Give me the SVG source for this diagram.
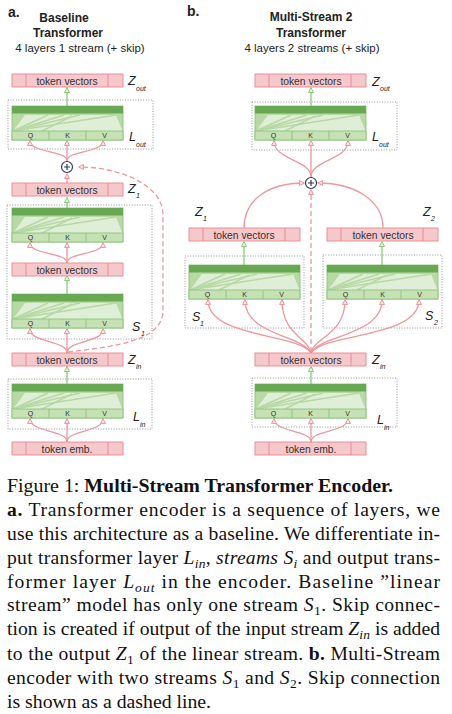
<svg xmlns="http://www.w3.org/2000/svg" xmlns:xlink="http://www.w3.org/1999/xlink" width="452" height="714" viewBox="0 0 452 714">
<style>
.tok{fill:#f5c8cb;stroke:#e9878e;stroke-width:0.9}
.tokd{stroke:#e9878e;stroke-width:0.9}
.tt{font-family:"Liberation Sans",Arial,sans-serif;font-size:10.3px;fill:#333;text-anchor:middle}
.dot{fill:none;stroke:#8a8a8a;stroke-width:0.9;stroke-dasharray:1 1.6}
.pk{fill:none;stroke:#ee979d;stroke-width:1.3;marker-end:url(#pa)}
.pkd{fill:none;stroke:#ee979d;stroke-width:1.3;stroke-dasharray:5 3;marker-end:url(#pa)}
.gr{fill:none;stroke:#8cc97a;stroke-width:1.3;marker-end:url(#ga)}
.lab{font-family:"Liberation Sans",Arial,sans-serif;font-style:italic;font-size:12.5px;fill:#222}
.sub{font-family:"Liberation Sans",Arial,sans-serif;font-style:italic;font-size:7px;fill:#222}
.ttl{font-family:"Liberation Sans",Arial,sans-serif;font-size:11.5px;fill:#222;text-anchor:middle}
.ttb{font-family:"Liberation Sans",Arial,sans-serif;font-size:12px;font-weight:bold;fill:#222;text-anchor:middle}
.qkv{font-family:"Liberation Sans",Arial,sans-serif;font-size:7px;fill:#333;text-anchor:middle}
.cap{font-family:"Liberation Serif","Times New Roman",serif;font-size:19.6px;fill:#111}
.it{font-style:italic}
.cs{font-size:13.5px}
</style>
<defs>
<marker id="pa" markerUnits="userSpaceOnUse" markerWidth="7" markerHeight="7" refX="5" refY="3" orient="auto">
<path d="M0.5,0.5 L5.5,3 L0.5,5.5 z" fill="#fbe3e4" stroke="#ee979d" stroke-width="1"/>
</marker>
<marker id="ga" markerUnits="userSpaceOnUse" markerWidth="7" markerHeight="7" refX="5" refY="3" orient="auto">
<path d="M0.5,0.5 L5.5,3 L0.5,5.5 z" fill="#e6f3df" stroke="#8cc97a" stroke-width="1"/>
</marker>
<g id="layer">
<rect x="0" y="0" width="111" height="34" fill="#b8d8a5" stroke="#8dc47c" stroke-width="0.9"/>
<rect x="0" y="0" width="111" height="7.5" fill="#68a853"/>
<polygon points="1,25 13,9 104,9 110.5,25" fill="#dfeed6"/>
<g stroke="#b8d8a5" stroke-width="1.4" fill="none">
<path d="M1,25 L36,9"/>
<path d="M1,25 L52,9"/>
<path d="M1,25 L68,9"/>
<path d="M1,25 L104,9"/>
<path d="M30,25 L60,10"/>
</g>
<rect x="0" y="25" width="111" height="9" fill="#c6e1b4" stroke="#8dc47c" stroke-width="0.9"/>
<line x1="37" y1="25" x2="37" y2="34" stroke="#8dc47c" stroke-width="0.9"/>
<line x1="74" y1="25" x2="74" y2="34" stroke="#8dc47c" stroke-width="0.9"/>
<text x="18.5" y="32" class="qkv">Q</text>
<text x="55.5" y="32" class="qkv">K</text>
<text x="92.5" y="32" class="qkv">V</text>
</g>
<g id="tokbox">
<rect x="0" y="0" width="111" height="13" class="tok"/>
<line x1="14" y1="0" x2="14" y2="13" class="tokd"/>
<line x1="96" y1="0" x2="96" y2="13" class="tokd"/>
</g>
<g id="plus">
<circle cx="0" cy="0" r="5.5" fill="#fff" stroke="#2e3d55" stroke-width="1.2"/>
<path d="M-3,0 H3 M0,-3 V3" stroke="#2e3d55" stroke-width="1.2"/>
</g>
</defs>
<rect width="452" height="714" fill="#fff"/>

<!-- titles -->
<g id="titles">
<text x="8" y="17" font-family="Liberation Sans,Arial,sans-serif" font-weight="bold" font-size="14" fill="#222">a.</text>
<text x="64" y="22" class="ttb">Baseline</text>
<text x="68" y="37" class="ttb">Transformer</text>
<text x="80" y="52" class="ttl">4 layers 1 stream (+ skip)</text>
<text x="187" y="16" font-family="Liberation Sans,Arial,sans-serif" font-weight="bold" font-size="14" fill="#222">b.</text>
<text x="311" y="21" class="ttb">Multi-Stream 2</text>
<text x="311" y="37" class="ttb">Transformer</text>
<text x="312" y="52" class="ttl">4 layers 2 streams (+ skip)</text>
</g>

<!-- dotted groups -->
<g id="groups">
<rect x="8" y="100" width="145" height="49" class="dot"/>
<rect x="7" y="205" width="145" height="134" class="dot"/>
<rect x="8" y="379" width="144" height="50" class="dot"/>
<rect x="252" y="102" width="145" height="48" class="dot"/>
<rect x="185" y="256" width="119" height="72" class="dot"/>
<rect x="323" y="255" width="119" height="73" class="dot"/>
<rect x="252" y="378" width="145" height="49" class="dot"/>
</g>

<!-- connectors -->
<g id="connectors">
<!-- panel a -->
<path class="gr" d="M67,106 V88"/>
<path class="pk" d="M67,161 C67,150 30,153 30,141"/>
<path class="pk" d="M67,161 V141"/>
<path class="pk" d="M67,161 C67,150 103,153 103,141"/>
<path class="pk" d="M67,183 V174"/>
<path class="gr" d="M67,208 V198"/>
<path class="pk" d="M67,263 C67,252 30,255 30,243"/>
<path class="pk" d="M67,263 V243"/>
<path class="pk" d="M67,263 C67,252 103,255 103,243"/>
<path class="gr" d="M67,294 V276"/>
<path class="pk" d="M67,353 C67,340 30,343 30,329"/>
<path class="pk" d="M67,353 V329"/>
<path class="pk" d="M67,353 C67,340 103,343 103,329"/>
<path class="pkd" d="M68,352 C120,346 163,340 163,310 L163,215 C163,185 120,167 79,167"/>
<path class="gr" d="M67,384 V367"/>
<path class="pk" d="M67,442 C67,430 30,432 30,419"/>
<path class="pk" d="M67,442 V419"/>
<path class="pk" d="M67,442 C67,430 103,432 103,419"/>
<!-- panel b -->
<path class="gr" d="M311,106 V88"/>
<path class="pk" d="M311,177 C311,160 274,160 274,141"/>
<path class="pk" d="M311,177 V141"/>
<path class="pk" d="M311,177 C311,160 348,160 348,141"/>
<path class="pk" d="M244,228 C244,200 268,183 304,183"/>
<path class="pk" d="M383,228 C383,200 354,183 318,183"/>
<path class="gr" d="M244,265 V242"/>
<path class="gr" d="M382,265 V242"/>
<path class="pk" d="M311,353 C298,333 208,338 208,300"/>
<path class="pk" d="M311,353 C302,335 245,335 245,300"/>
<path class="pk" d="M311,353 C308,337 282,335 282,300"/>
<path class="pk" d="M311,353 C314,337 345,335 345,300"/>
<path class="pk" d="M311,353 C320,335 382,335 382,300"/>
<path class="pk" d="M311,353 C324,333 419,338 419,300"/>
<path class="pkd" d="M311,352 V190"/>
<path class="gr" d="M311,384 V367"/>
<path class="pk" d="M311,442 C311,430 274,432 274,419"/>
<path class="pk" d="M311,442 V419"/>
<path class="pk" d="M311,442 C311,430 348,432 348,419"/>
</g>

<!-- panel a nodes -->
<g id="a-zout"><use xlink:href="#tokbox" x="12" y="74"/><text x="67" y="84.5" class="tt">token vectors</text></g>
<g id="a-lout"><use xlink:href="#layer" x="12" y="106"/></g>
<g id="a-plus"><use xlink:href="#plus" x="67" y="167"/></g>
<g id="a-z1"><use xlink:href="#tokbox" x="12" y="183"/><text x="67" y="193.5" class="tt">token vectors</text></g>
<g id="a-s1-l1"><use xlink:href="#layer" x="12" y="208"/></g>
<g id="a-s1-tok"><use xlink:href="#tokbox" x="12" y="263"/><text x="67" y="273.5" class="tt">token vectors</text></g>
<g id="a-s1-l2"><use xlink:href="#layer" x="12" y="294"/></g>
<g id="a-zin"><use xlink:href="#tokbox" x="12" y="353"/><text x="67" y="363.5" class="tt">token vectors</text></g>
<g id="a-lin"><use xlink:href="#layer" x="12" y="384"/></g>
<g id="a-emb"><use xlink:href="#tokbox" x="12" y="442"/><text x="67" y="452.5" class="tt">token emb.</text></g>

<!-- panel b nodes -->
<g id="b-zout"><use xlink:href="#tokbox" x="255" y="74"/><text x="311" y="84.5" class="tt">token vectors</text></g>
<g id="b-lout"><use xlink:href="#layer" x="255" y="106"/></g>
<g id="b-plus"><use xlink:href="#plus" x="311" y="183"/></g>
<g id="b-z1"><use xlink:href="#tokbox" x="189" y="228"/><text x="244" y="238.5" class="tt">token vectors</text></g>
<g id="b-z2"><use xlink:href="#tokbox" x="327" y="228"/><text x="383" y="238.5" class="tt">token vectors</text></g>
<g id="b-s1"><use xlink:href="#layer" x="189" y="265"/></g>
<g id="b-s2"><use xlink:href="#layer" x="327" y="265"/></g>
<g id="b-zin"><use xlink:href="#tokbox" x="255" y="353"/><text x="311" y="363.5" class="tt">token vectors</text></g>
<g id="b-lin"><use xlink:href="#layer" x="255" y="384"/></g>
<g id="b-emb"><use xlink:href="#tokbox" x="255" y="442"/><text x="311" y="452.5" class="tt">token emb.</text></g>

<!-- labels -->
<g id="labels">
<text x="128" y="85" class="lab">Z</text><text x="136" y="91" class="sub">out</text>
<text x="129" y="141" class="lab">L</text><text x="136" y="147" class="sub">out</text>
<text x="128" y="193" class="lab">Z</text><text x="136" y="198" class="sub">1</text>
<text x="132" y="331" class="lab">S</text><text x="141" y="336" class="sub">1</text>
<text x="128" y="364" class="lab">Z</text><text x="136" y="369" class="sub">in</text>
<text x="133" y="421" class="lab">L</text><text x="140" y="427" class="sub">in</text>
<text x="372" y="86" class="lab">Z</text><text x="380" y="91" class="sub">out</text>
<text x="372" y="141" class="lab">L</text><text x="379" y="147" class="sub">out</text>
<text x="195" y="216" class="lab">Z</text><text x="203" y="221" class="sub">1</text>
<text x="423" y="216" class="lab">Z</text><text x="431" y="221" class="sub">2</text>
<text x="192" y="321" class="lab">S</text><text x="200" y="326" class="sub">1</text>
<text x="425" y="320" class="lab">S</text><text x="434" y="325" class="sub">2</text>
<text x="372" y="364" class="lab">Z</text><text x="380" y="369" class="sub">in</text>
<text x="377" y="424" class="lab">L</text><text x="384" y="430" class="sub">in</text>
</g>

<!-- caption -->
<g id="caption" class="cap">
<text x="7" y="492" textLength="386" lengthAdjust="spacingAndGlyphs">Figure 1: <tspan font-weight="bold">Multi-Stream Transformer Encoder.</tspan></text>
<text x="7" y="516" textLength="433" lengthAdjust="spacing"><tspan font-weight="bold">a.</tspan>  Transformer encoder is a sequence of layers, we</text>
<text x="7" y="540" textLength="433" lengthAdjust="spacing">use this architecture as a baseline. We differentiate in-</text>
<text x="7" y="564" textLength="433" lengthAdjust="spacing">put transformer layer <tspan class="it">L</tspan><tspan class="it cs" dy="4">in</tspan><tspan dy="-4">, </tspan><tspan class="it">streams S</tspan><tspan class="it cs" dy="4">i</tspan><tspan dy="-4"> and output trans-</tspan></text>
<text x="7" y="588" textLength="433" lengthAdjust="spacing">former layer <tspan class="it">L</tspan><tspan class="it cs" dy="4">out</tspan><tspan dy="-4"> in the encoder.  Baseline ”linear</tspan></text>
<text x="7" y="611" textLength="433" lengthAdjust="spacing">stream” model has only one stream <tspan class="it">S</tspan><tspan class="cs" dy="4">1</tspan><tspan dy="-4">.  Skip connec-</tspan></text>
<text x="7" y="635" textLength="433" lengthAdjust="spacing">tion is created if output of the input stream <tspan class="it">Z</tspan><tspan class="it cs" dy="4">in</tspan><tspan dy="-4"> is added</tspan></text>
<text x="7" y="660" textLength="433" lengthAdjust="spacing">to the output <tspan class="it">Z</tspan><tspan class="cs" dy="4">1</tspan><tspan dy="-4"> of the linear stream. </tspan><tspan font-weight="bold">b.</tspan> Multi-Stream</text>
<text x="7" y="684" textLength="433" lengthAdjust="spacing">encoder with two streams <tspan class="it">S</tspan><tspan class="cs" dy="4">1</tspan><tspan dy="-4"> and </tspan><tspan class="it">S</tspan><tspan class="cs" dy="4">2</tspan><tspan dy="-4">. Skip connection</tspan></text>
<text x="7" y="708" textLength="204" lengthAdjust="spacingAndGlyphs">is shown as a dashed line.</text>
</g>
</svg>
